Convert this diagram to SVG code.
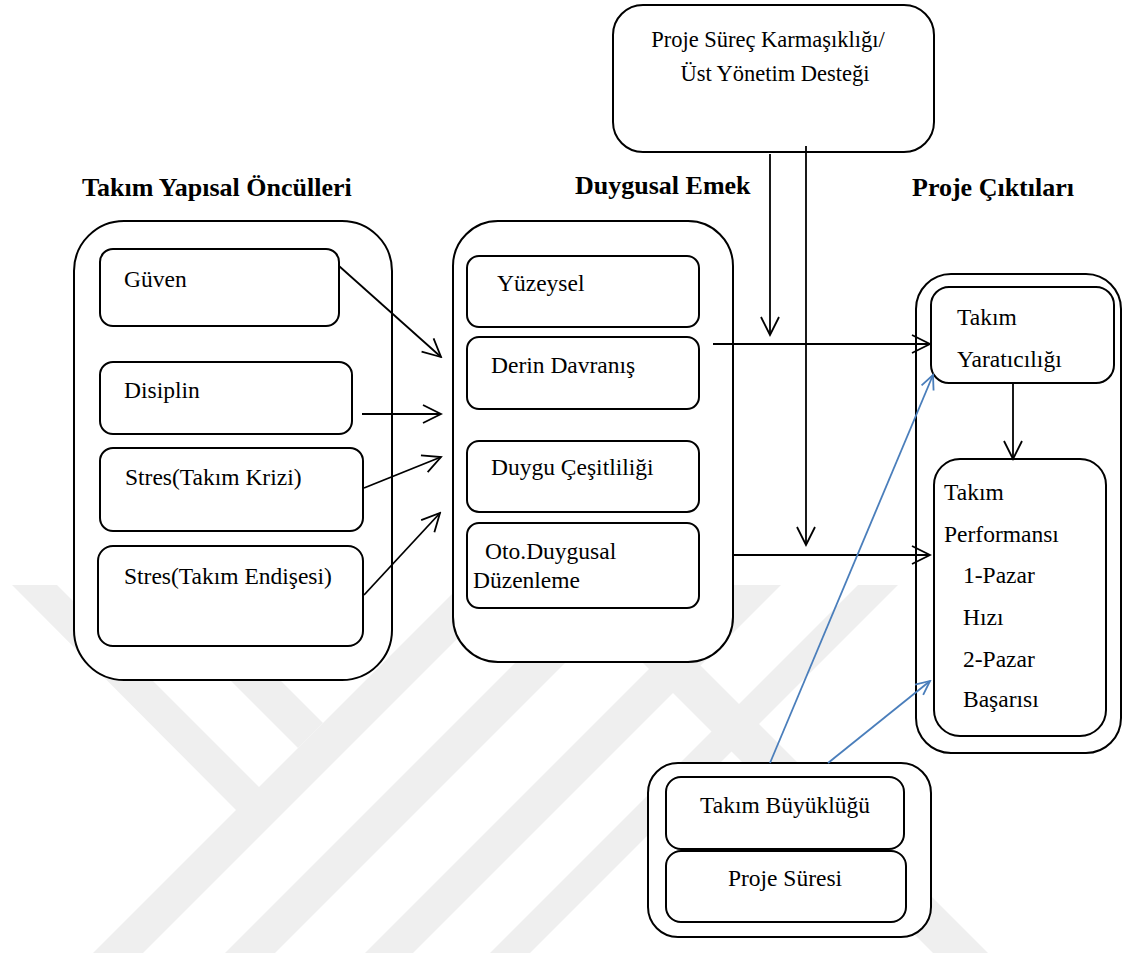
<svg xmlns="http://www.w3.org/2000/svg" width="1123" height="956" viewBox="0 0 1123 956" font-family="Liberation Serif, Tinos, Times New Roman, Nimbus Roman, FreeSerif, DejaVu Serif, serif">
<defs>
<style>
.box{fill:#fff;stroke:#000;stroke-width:2}
.t{font-size:23.5px;fill:#000}
.tc{font-size:22.5px;fill:#000;text-anchor:middle}
.h{font-size:26px;font-weight:bold;fill:#000}
.c{stroke:#000;stroke-width:1.8;fill:none;marker-end:url(#ah)}
.b{stroke:#4a7ebb;stroke-width:1.8;fill:none;marker-end:url(#ab)}
.wm{fill:#efefef}
</style>
<marker id="ah" markerUnits="userSpaceOnUse" viewBox="0 0 22 22" markerWidth="22" markerHeight="22" refX="20" refY="11" orient="auto"><path d="M2,2 L20,11 L2,20" fill="none" stroke="#000" stroke-width="1.8"/></marker>
<marker id="ab" markerUnits="userSpaceOnUse" viewBox="0 0 18 18" markerWidth="18" markerHeight="18" refX="16" refY="9" orient="auto"><path d="M2,2.5 L16,9 L2,15.5" fill="none" stroke="#4a7ebb" stroke-width="1.8"/></marker>
</defs>
<rect width="1123" height="956" fill="#fff"/>
<g id="watermark">
<polygon class="wm" points="12,585 57,585 284,812 236,810"/>
<polygon class="wm" points="135,585 185,585 323,723 298,748"/>
<polygon class="wm" points="93,953 143,953 511,585 461,585"/>
<polygon class="wm" points="225,953 275,953 643,585 593,585"/>
<polygon class="wm" points="365,953 413,953 781,585 733,585"/>
<polygon class="wm" points="490,953 530,953 898,585 858,585"/>
<polygon class="wm" points="565,585 620,585 988,953 933,953"/>
</g>
<g id="takim-yapisal-onculleri">
<text class="h" x="82" y="196">Takım Yapısal Öncülleri</text>
<rect class="box" x="74" y="221" width="318" height="459" rx="50"/>
</g>
<g id="guven"><rect class="box" x="100" y="249" width="239" height="77" rx="13"/><text class="t" x="124" y="287">Güven</text></g>
<g id="disiplin"><rect class="box" x="100" y="362" width="252" height="72" rx="13"/><text class="t" x="124" y="398">Disiplin</text></g>
<g id="stres-kriz"><rect class="box" x="100" y="448" width="263" height="83" rx="13"/><text class="t" x="125" y="485">Stres(Takım Krizi)</text></g>
<g id="stres-endise"><rect class="box" x="98" y="546" width="265" height="100" rx="15"/><text class="t" x="124" y="584">Stres(Takım Endişesi)</text></g>

<g id="duygusal-emek">
<text class="h" x="575" y="194">Duygusal Emek</text>
<rect class="box" x="453" y="221" width="280" height="441" rx="45"/>
</g>
<g id="yuzeysel"><rect class="box" x="467" y="256" width="232" height="71" rx="12"/><text class="t" x="497" y="291">Yüzeysel</text></g>
<g id="derin-davranis"><rect class="box" x="467" y="337" width="232" height="72" rx="12"/><text class="t" x="491" y="373">Derin Davranış</text></g>
<g id="duygu-cesitliligi"><rect class="box" x="467" y="441" width="232" height="71" rx="12"/><text class="t" x="491" y="475">Duygu Çeşitliliği</text></g>
<g id="oto-duygusal"><rect class="box" x="467" y="523" width="232" height="85" rx="12"/><text class="t" x="485" y="559">Oto.Duygusal</text><text class="t" x="473" y="588">Düzenleme</text></g>

<g id="proje-surec"><rect class="box" x="613" y="5" width="321" height="147" rx="30"/><text class="tc" x="768" y="47">Proje Süreç Karmaşıklığı/</text><text class="tc" x="775" y="81">Üst Yönetim Desteği</text></g>

<g id="proje-ciktilari">
<text class="h" x="912" y="196">Proje Çıktıları</text>
<rect class="box" x="916" y="274" width="205" height="479" rx="35"/>
</g>
<g id="takim-yaraticiligi"><rect class="box" x="931" y="287" width="183" height="96" rx="18"/><text class="t" x="957" y="325">Takım</text><text class="t" x="957" y="367">Yaratıcılığı</text></g>
<g id="takim-performansi"><rect class="box" x="934" y="459" width="172" height="277" rx="26"/>
<text class="t" x="944" y="500">Takım</text><text class="t" x="944" y="542">Performansı</text>
<text class="t" x="963" y="583">1-Pazar</text><text class="t" x="963" y="625">Hızı</text>
<text class="t" x="963" y="667">2-Pazar</text><text class="t" x="963" y="707">Başarısı</text></g>

<g id="kontrol"><rect class="box" x="648" y="763" width="283" height="174" rx="30"/></g>
<g id="takim-buyuklugu"><rect class="box" x="666" y="777" width="238" height="72" rx="15"/><text class="tc" x="785" y="813" style="font-size:23.5px">Takım Büyüklüğü</text></g>
<g id="proje-suresi"><rect class="box" x="666" y="851" width="240" height="71" rx="15"/><text class="tc" x="785" y="886" style="font-size:23.5px">Proje Süresi</text></g>

<g id="connectors">
<path class="c" d="M339,266 L441,357"/>
<path class="c" d="M362,414 L441,414"/>
<path class="c" d="M364,488 L441,457"/>
<path class="c" d="M364,595 L440,513"/>
<path class="c" d="M770,154 L770,335"/>
<path class="c" d="M806,146 L806,545"/>
<path class="c" d="M713,344 L930,344"/>
<path class="c" d="M733,555 L930,555"/>
<path class="c" d="M1013,383 L1013,459"/>
<path class="b" d="M770,763 L933,375"/>
<path class="b" d="M828,763 L930,681"/>
</g>
</svg>
